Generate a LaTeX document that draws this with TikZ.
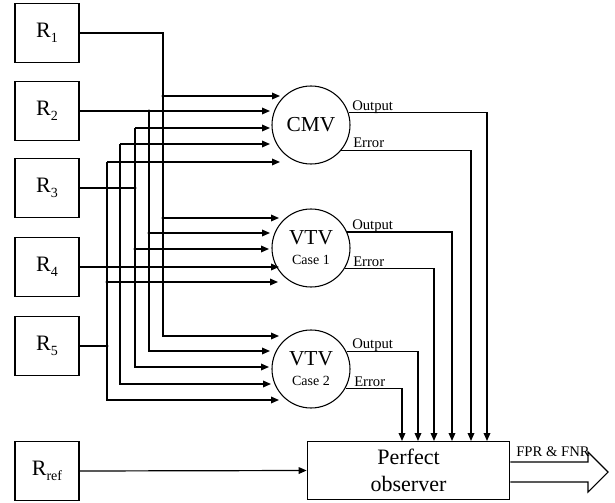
\documentclass[tikz,border=0pt]{standalone}
\usepackage{fontspec}
\setmainfont{Liberation Serif}
\usetikzlibrary{arrows.meta}
\newcommand\rsub[1]{\raisebox{-4pt}{\fontsize{10.5}{12}\selectfont #1}}
\begin{document}
\begin{tikzpicture}[x=0.75pt,y=-0.75pt,
  rbox/.style={draw, line width=0.8pt, minimum width=48pt, minimum height=44pt, inner sep=0pt, font=\fontsize{16.5}{18}\selectfont},
  proc/.style={draw, circle, line width=0.8pt, minimum size=58.5pt, inner sep=0pt, align=center},
  wire/.style={line width=0.9pt},
  arr/.style={wire, -{Triangle[length=6pt,width=5pt]}},
  lbl/.style={font=\fontsize{11}{12}\selectfont, inner sep=0pt, anchor=base west},
]
\useasboundingbox (0,0) rectangle (615,503);

% source boxes
\node[rbox] (r1) at (47,33) {R\rsub{1}};
\node[rbox] (r2) at (47,111) {R\rsub{2}};
\node[rbox] (r3) at (47,188) {R\rsub{3}};
\node[rbox] (r4) at (47,267) {R\rsub{4}};
\node[rbox] (r5) at (47,346) {R\rsub{5}};
\node[rbox] (rref) at (47,471) {R\rsub{ref}};

% processing circles
\node[proc, font=\fontsize{16}{18}\selectfont] (cmv) at (311,125) {CMV};
\node[proc, font=\fontsize{16}{15}\selectfont] (vtv1) at (311,248) {VTV\\{\fontsize{10.5}{15}\selectfont Case 1}};
\node[proc, font=\fontsize{16}{15}\selectfont] (vtv2) at (311,369) {VTV\\{\fontsize{10.5}{15}\selectfont Case 2}};

% perfect observer
\node[draw, line width=0.8pt, minimum width=152pt, minimum height=44pt, inner sep=0pt,
  align=center, font=\fontsize{16.5}{20}\selectfont] (po) at (408.5,470.5) {Perfect\\observer};

% R1 bus
\draw[arr] (r1.east) -| (163,336) -- (279,336);
\draw[arr] (163,96) -- (280,96);
\draw[arr] (163,218) -- (279,218);
\fill (163,96) circle[radius=1.3pt] (163,218) circle[radius=1.3pt];

% R2 bus
\draw[arr] (r2.east) -- (270,111);
\draw[arr] (149,111) -- (149,351) -- (270,351);
\draw[arr] (149,233) -- (270,233);
\fill (149,111) circle[radius=1.3pt] (149,233) circle[radius=1.3pt];

% R3 bus
\draw[arr] (135,128) -- (135,367) -- (269,367);
\draw[wire] (r3.east) -- (135,188);
\draw[arr] (135,249) -- (269,249);
\draw[arr] (135,128) -- (270,128);
\fill (135,188) circle[radius=1.3pt] (135,249) circle[radius=1.3pt];

% R4 bus
\draw[arr] (120,144) -- (270,144);
\draw[arr] (120,144) -- (120,384) -- (271,384);
\draw[arr] (r4.east) -- (279,267);
\fill (120,267) circle[radius=1.3pt];

% R5 bus
\draw[arr] (107,162) -- (280,162);
\draw[arr] (107,162) -- (107,400) -- (279,400);
\draw[wire] (r5.east) -- (107,346);
\draw[arr] (107,282) -- (278,282);
\fill (107,346) circle[radius=1.3pt] (107,282) circle[radius=1.3pt];

% outputs to observer
\draw[arr] (cmv.18) -| (487,441);
\draw[arr] (cmv.-40) -| (471,441);
\draw[arr] (vtv1.24) -| (452,441);
\draw[arr] (vtv1.-31) -| (434,441);
\draw[arr] (vtv2.26) -| (418,441);
\draw[arr] (vtv2.-29) -| (402,441);

\node[lbl] (l1) at (352,110.5) {Output};
\node[lbl] (l2) at (353,147) {Error};
\node[lbl] (l3) at (352,229) {Output};
\node[lbl] (l4) at (353,266.5) {Error};
\node[lbl] (l5) at (352,348.5) {Output};
\node[lbl] (l6) at (354,386) {Error};

% reference input
\draw[arr] (rref.east) -- (po.west);

% result arrow
\draw[line width=0.8pt] (po.east |- 0,462) -- (588,462) -- (588,452) -- (608,472) -- (588,492) -- (588,482) -- (po.east |- 0,482);
\node[lbl] (fpr) at (516,456.5) {FPR \& FNR};
\end{tikzpicture}
\end{document}
